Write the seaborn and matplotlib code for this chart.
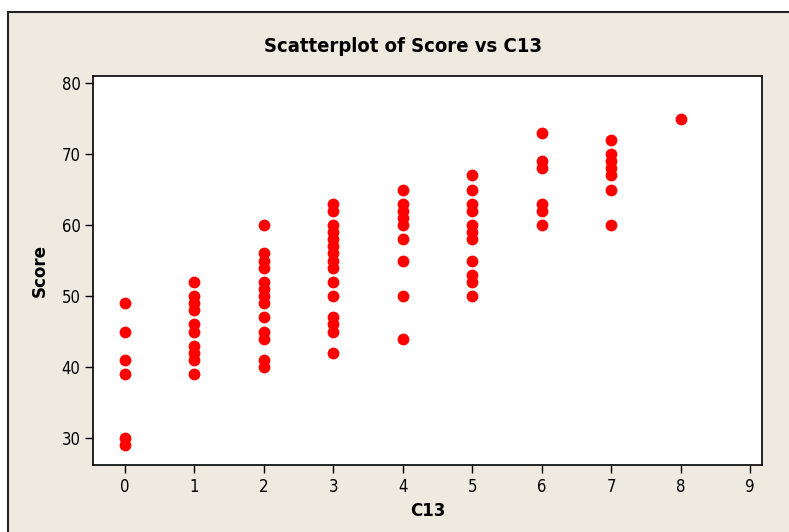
import matplotlib
matplotlib.use("Agg")
import matplotlib.pyplot as plt
from matplotlib.patches import Rectangle
import seaborn as sns
import pandas as pd

# Score values grouped by C13 level
c13_levels = [0, 1, 2, 3, 4, 5, 6, 7, 8]
score_c0 = [49, 45, 41, 39, 30, 29]
score_c1 = [52, 50, 49, 48, 46, 45, 43, 42, 41, 39]
score_c2 = [60, 56, 55, 54, 52, 51, 50, 49, 47, 45, 44, 41, 40]
score_c3 = [63, 62, 60, 59, 58, 57, 56, 55, 54, 52, 50, 47, 46, 45, 42]
score_c4 = [65, 63, 62, 61, 60, 58, 55, 50, 44]
score_c5 = [67, 65, 63, 62, 60, 59, 58, 55, 53, 52, 50]
score_c6 = [73, 69, 68, 63, 62, 60]
score_c7 = [72, 70, 69, 68, 67, 65, 60]
score_c8 = [75]
x_ticks = [0, 1, 2, 3, 4, 5, 6, 7, 8, 9]
y_ticks = [30, 40, 50, 60, 70, 80]

groups = [score_c0, score_c1, score_c2, score_c3, score_c4,
          score_c5, score_c6, score_c7, score_c8]
df = pd.DataFrame(
    [(lvl, s) for lvl, scores in zip(c13_levels, groups) for s in scores],
    columns=["C13", "Score"],
)

sns.set_style("white")
plt.rcParams["font.family"] = ["DejaVu Sans"]
plt.rcParams["text.color"] = "black"
plt.rcParams["axes.labelcolor"] = "black"
plt.rcParams["xtick.color"] = "black"
plt.rcParams["ytick.color"] = "black"

W, H = 789, 532
fig = plt.figure(figsize=(W / 100, H / 100), dpi=100, facecolor="white")

# beige graph window with a dark frame on the top and left
bg = Rectangle((8 / W, -0.02), 1.1, (H - 12) / H + 0.02, transform=fig.transFigure,
               facecolor="#EEEAE0", edgecolor="#222222", linewidth=1.5, zorder=-5)
fig.add_artist(bg)

left, right, top, bottom = 93, 762, 76, 465
ax = fig.add_axes([left / W, (H - bottom) / H, (right - left) / W, (bottom - top) / H])
ax.set_zorder(2)
ax.set_facecolor("white")

sns.scatterplot(data=df, x="C13", y="Score", color="#FF0000", s=72,
                linewidth=0, ax=ax, zorder=3)

ax.set_xlim(-0.461, 9.173)
ax.set_ylim(26.2, 81.0)
ax.set_xticks(x_ticks)
ax.set_yticks(y_ticks)

for sp in ax.spines.values():
    sp.set_visible(True)
    sp.set_color("black")
    sp.set_linewidth(1.2)

ax.tick_params(axis="both", direction="out", length=6, width=1, color="black",
               labelcolor="black", labelsize=12, pad=3,
               bottom=True, left=True, top=False, right=False)
for lab in ax.get_xticklabels() + ax.get_yticklabels():
    lab.set_fontstretch("condensed")

ax.set_xlabel("C13", fontsize=12, fontweight="bold", labelpad=5, color="black")
ax.set_ylabel("Score", fontsize=12, fontweight="bold", labelpad=9, color="black")

fig.text(403 / W, 1 - 47 / H, "Scatterplot of Score vs C13", ha="center", va="center",
         fontsize=14.5, fontweight="bold", fontstretch="condensed", color="black")

fig.savefig("out.png", dpi=100, facecolor=fig.get_facecolor())
